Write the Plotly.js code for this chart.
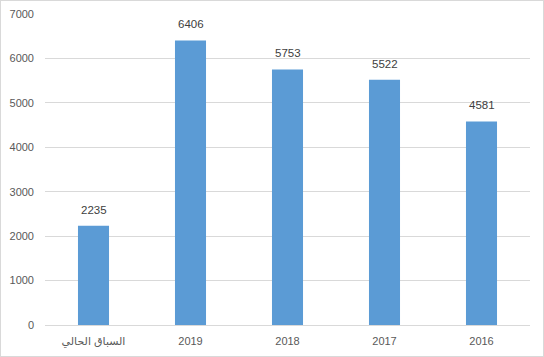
<!DOCTYPE html>
<html><head><meta charset="utf-8">
<script src="https://cdn.plot.ly/plotly-3.0.1.min.js"></script>
<style>html,body{margin:0;padding:0;background:#fff;}#wrap{position:relative;width:544px;height:357px;}#frame{position:absolute;left:0;top:0;width:544px;height:357px;box-sizing:border-box;border:1px solid #d9d9d9;pointer-events:none;}</style>
</head><body>
<div id="wrap"><div id="chart" style="width:544px;height:357px;"></div><div id="frame"></div></div>
<script>
const categories = ["السباق الحالي", "2019", "2018", "2017", "2016"];
const values = [2235, 6406, 5753, 5522, 4581];
const yTicks = [0, 1000, 2000, 3000, 4000, 5000, 6000, 7000];

// category axis positions are indices; annotations use the index of each category
const labelAnnotations = categories.map((c, i) => ({
  x: i, y: values[i], xref: 'x', yref: 'y',
  text: String(values[i]), showarrow: false,
  yanchor: 'bottom', yshift: 8,
  font: {color: '#404040', size: 11.5}
}));

Plotly.newPlot('chart', [{
  type: 'bar',
  x: categories,
  y: values,
  marker: {color: '#5b9bd5'},
  hoverinfo: 'none'
}], {
  width: 544, height: 357,
  margin: {l: 45, r: 14, t: 14, b: 32},
  bargap: 0.68,
  paper_bgcolor: '#fff', plot_bgcolor: '#fff',
  font: {family: '"Liberation Sans", "DejaVu Sans", sans-serif', size: 11, color: '#595959'},
  xaxis: {type: 'category', range: [-0.5, categories.length - 0.5], showgrid: false, showline: true, linecolor: '#d9d9d9', ticks: '', ticklabelstandoff: 6, tickfont: {size: 11, color: '#595959'}},
  yaxis: {range: [0, 7000], tickvals: yTicks, ticktext: yTicks.map(String), showgrid: true, gridcolor: '#d9d9d9', zeroline: true, zerolinecolor: '#d9d9d9', showline: false, ticks: '', ticklabelstandoff: 10, tickfont: {size: 11, color: '#595959'}},
  annotations: labelAnnotations,
  showlegend: false
}, {staticPlot: true});
</script>
</body></html>
